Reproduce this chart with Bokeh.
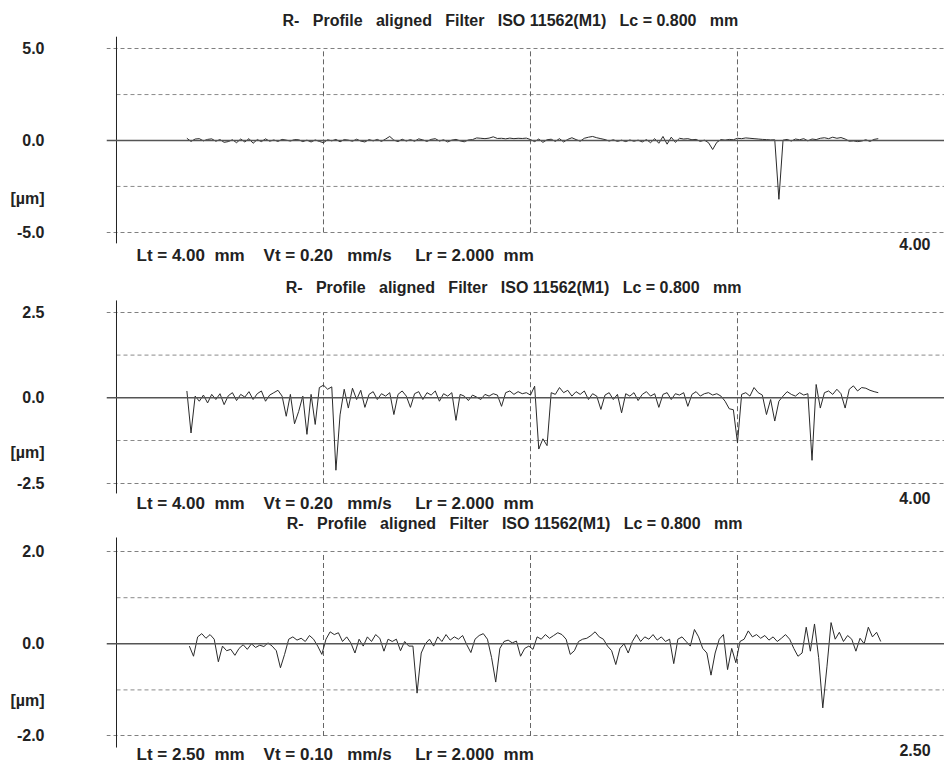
import numpy as np
from bokeh.plotting import figure
from bokeh.layouts import column
from bokeh.models import Span, Label, FixedTicker
from bokeh.embed import file_html
from bokeh.resources import INLINE

# ---------------- data ----------------
TITLE = "R-   Profile   aligned   Filter   ISO 11562(M1)   Lc = 0.800   mm"
INFO = ["Lt = 4.00  mm    Vt = 0.20   mm/s     Lr = 2.000  mm",
        "Lt = 4.00  mm    Vt = 0.20   mm/s     Lr = 2.000  mm",
        "Lt = 2.50  mm    Vt = 0.10   mm/s     Lr = 2.000  mm"]
LT_LABELS = ["4.00", "4.00", "2.50"]
UNIT = "[µm]"

Y_TICKS = [[5.0, 0.0, -5.0], [2.5, 0.0, -2.5], [2.0, 0.0, -2.0]]
Y_TICK_LABELS = [["5.0", "0.0", "-5.0"], ["2.5", "0.0", "-2.5"], ["2.0", "0.0", "-2.0"]]
UNIT_AT = [-3.16, -1.60, -1.23]          # where the unit label sits on the y scale
OUTER_GRID = [[5.0, -5.0], [2.5, -2.5], [2.0, -2.0]]
INNER_GRID = [[2.5, -2.5], [1.25, -1.25], [1.0, -1.0]]
V_GRID = [[1.0, 2.0, 3.0], [1.0, 2.0, 3.0], [0.625, 1.25, 1.875]]
LENGTH = [4.0, 4.0, 2.5]

# sampling grid of the profiles (mm)
X0 = [0.34, 0.34, 0.22]
DX = [0.02, 0.02, 0.0125]

PROFILE_1 = [
    0.12, -0.05, 0.08, 0.10, -0.02, 0.06, 0.09, -0.04, 0.05, -0.10,
    -0.06, 0.04, -0.12, 0.08, -0.08, 0.10, -0.15, 0.05, -0.06, 0.09,
    -0.04, 0.03, -0.05, 0.06, 0.02, -0.03, 0.05, 0.04, -0.06, 0.02,
    -0.08, 0.03, -0.05, -0.12, 0.04, -0.02, 0.06, -0.07, 0.05, 0.02,
    -0.04, 0.07, -0.03, -0.08, 0.05, -0.02, 0.06, -0.05, 0.08, 0.22,
    0.02, -0.06, 0.07, -0.03, 0.05, -0.04, 0.09, 0.03, -0.05, 0.06,
    0.10, -0.03, 0.04, -0.08, 0.02, 0.06, -0.02, -0.07, 0.03, 0.05,
    0.14, 0.12, 0.10, 0.13, 0.20, 0.11, 0.12, 0.09, 0.13, 0.10,
    0.12, 0.11, 0.13, 0.05, -0.06, 0.08, -0.10, 0.04, 0.07, -0.05,
    0.10, -0.08, 0.06, 0.15, 0.05, -0.04, 0.12, 0.18, 0.22, 0.15,
    0.10, 0.05, -0.03, 0.04, -0.05, 0.02, -0.06, 0.03, -0.04, 0.02,
    -0.08, 0.05, -0.12, 0.10, -0.15, 0.22, -0.20, 0.18, -0.10, 0.12,
    0.08, 0.10, 0.04, 0.06, -0.05, 0.02, -0.12, -0.49, -0.10, 0.05,
    0.02, 0.06, 0.04, 0.12, 0.10, 0.14, 0.12, 0.10, 0.08, 0.06,
    0.05, 0.03, 0.04, -3.20, 0.02, 0.06, -0.03, 0.08, 0.04, 0.10,
    -0.02, 0.08, 0.05, 0.12, 0.15, 0.10, 0.18, 0.12, 0.16, 0.08,
    -0.04, -0.02, -0.06, -0.03, 0.04, -0.05, 0.06, 0.10,
]

PROFILE_2 = [
    0.20, -1.03, 0.05, -0.10, 0.08, -0.15, 0.10, -0.05, 0.12, -0.20,
    0.06, 0.15, -0.08, 0.10, 0.02, 0.18, -0.05, 0.12, 0.20, -0.10,
    0.08, 0.15, 0.22, 0.05, -0.54, 0.10, -0.76, -0.40, 0.05, -1.07,
    0.10, -0.78, 0.30, 0.37, 0.25, 0.32, -2.12, -0.50, 0.25, -0.30,
    0.28, -0.05, 0.22, -0.28, 0.10, 0.18, -0.05, 0.12, 0.05, 0.15,
    -0.49, 0.10, 0.20, 0.05, -0.28, 0.12, 0.18, -0.05, 0.15, 0.08,
    0.20, -0.10, 0.12, 0.05, 0.15, -0.66, 0.10, 0.05, -0.08, 0.08,
    0.02, -0.05, 0.10, 0.05, 0.12, 0.08, -0.25, 0.15, 0.20, 0.10,
    0.18, 0.12, 0.15, 0.08, 0.34, -1.50, -1.20, -1.40, 0.15, 0.10,
    0.30, 0.15, 0.22, 0.05, 0.18, 0.10, 0.20, -0.05, 0.12, 0.05,
    -0.34, 0.08, 0.15, -0.05, 0.10, -0.44, 0.12, 0.05, 0.15, -0.08,
    0.10, 0.18, 0.05, 0.12, -0.28, 0.10, 0.15, -0.05, 0.12, 0.08,
    0.15, -0.25, 0.10, 0.18, 0.05, 0.12, 0.15, 0.08, 0.12, 0.05,
    -0.10, -0.32, -0.35, -1.32, 0.10, 0.15, 0.05, 0.30, 0.15, 0.08,
    -0.49, -0.05, -0.68, -0.10, 0.05, 0.18, 0.10, 0.05, 0.15, 0.08,
    0.12, -1.83, 0.39, -0.30, 0.15, 0.20, 0.10, 0.25, 0.12, -0.30,
    0.25, 0.35, 0.20, 0.30, 0.28, 0.22, 0.18, 0.15,
]

PROFILE_3 = [
    -0.05, -0.27, 0.15, 0.22, 0.12, 0.20, 0.10, -0.39, -0.05, -0.15,
    -0.12, -0.25, -0.10, -0.02, -0.12, 0.00, -0.08, -0.03, -0.06, 0.02,
    -0.05, -0.15, -0.52, -0.23, 0.10, 0.15, 0.08, 0.12, 0.05, 0.18,
    0.10, -0.05, -0.23, 0.10, 0.26, 0.20, 0.24, 0.05, 0.15, 0.02,
    -0.20, 0.10, -0.05, 0.15, 0.05, 0.20, 0.12, -0.16, 0.10, 0.05,
    0.10, -0.15, 0.05, -0.05, -0.05, -1.07, -0.20, 0.00, 0.10, -0.05,
    0.15, 0.05, 0.20, 0.08, 0.15, 0.10, 0.18, -0.02, -0.19, 0.10,
    0.18, 0.22, 0.10, -0.30, -0.83, -0.10, 0.05, 0.08, 0.02, 0.06,
    -0.27, -0.10, -0.05, -0.12, 0.15, 0.10, 0.20, 0.12, 0.18, 0.24,
    0.20, 0.10, -0.23, -0.15, 0.05, 0.10, 0.12, 0.18, 0.26, 0.15,
    0.10, -0.05, -0.15, -0.45, -0.10, 0.00, -0.20, 0.05, 0.20, 0.05,
    0.15, 0.10, 0.20, 0.08, 0.15, 0.05, 0.10, -0.43, 0.10, 0.15,
    0.05, -0.05, 0.31, 0.15, -0.10, -0.20, -0.68, -0.20, 0.10, 0.20,
    -0.56, -0.10, -0.41, 0.05, 0.10, 0.28, 0.15, 0.20, 0.12, 0.18,
    0.08, 0.15, 0.05, 0.12, 0.20, 0.10, -0.10, -0.27, -0.20, 0.36,
    -0.16, 0.43, -0.30, -1.39, -0.50, 0.46, 0.10, 0.25, 0.05, 0.18,
    0.10, -0.16, 0.12, 0.00, 0.36, 0.15, 0.25, 0.05,
]
PROFILES = [PROFILE_1, PROFILE_2, PROFILE_3]

# ---------------- layout (pixels / axis ranges) ----------------
FONT = "Liberation Sans"
X_RANGES = [(-0.0483, 4.0), (-0.0483, 4.0), (-0.0302, 2.5)]
Y_RANGES = [(-6.968, 7.621), (-3.416, 3.785), (-2.640, 2.805)]
HEIGHTS = [268, 246, 251]
AXIS_SPAN = [(-5.60, 5.65), (-2.80, 2.85), (-2.25, 2.306)]
# annotation anchors in data units
TITLE_POS = [(1.903, 6.53), (1.918, 3.23), (1.202, 2.61)]
INFO_POS = [(0.0966, -6.26), (0.0966, -3.09), (0.0604, -2.40)]
LT_POS = [(3.932, -5.66), (3.932, -2.92), (2.458, -2.31)]


def keep_spaces(s):
    # SVG text collapses runs of blanks; non-breaking spaces keep the gaps
    return s.replace(" ", "\u00a0")


figs = []
for k in range(3):
    p = figure(width=944, height=HEIGHTS[k], output_backend="svg",
               toolbar_location=None, title=None,
               x_range=X_RANGES[k], y_range=Y_RANGES[k],
               x_axis_location=None,
               min_border_left=106, min_border_right=0,
               min_border_top=0, min_border_bottom=0)
    p.outline_line_color = None
    p.background_fill_color = "white"
    p.border_fill_color = "white"

    ticks = Y_TICKS[k] + [UNIT_AT[k]]
    labels = Y_TICK_LABELS[k] + [UNIT]
    ax = p.yaxis[0]
    ax.ticker = FixedTicker(ticks=ticks)
    ax.major_label_overrides = {t: s for t, s in zip(ticks, labels)}
    ax.minor_tick_line_color = None
    ax.major_tick_line_color = None
    ax.major_tick_in = 0
    ax.major_tick_out = 0
    ax.axis_line_color = None
    ax.major_label_standoff = 62
    ax.major_label_text_font = FONT
    ax.major_label_text_font_style = "bold"
    ax.major_label_text_font_size = "16px"
    ax.major_label_text_color = "#222222"

    p.xgrid.visible = False
    # outer grid lines with their left tick stubs (from the frame's left edge)
    p.ygrid.ticker = FixedTicker(ticks=OUTER_GRID[k])
    p.ygrid.grid_line_color = "#808080"
    p.ygrid.grid_line_dash = "4 3"
    p.ygrid.grid_line_width = 1
    # inner grid lines start at the vertical axis
    ig = INNER_GRID[k]
    p.segment(x0=[0.0] * len(ig), y0=ig, x1=[LENGTH[k]] * len(ig), y1=ig,
              line_color="#8a8a8a", line_dash="4 3", line_width=1)

    # vertical dashed lines
    lim = OUTER_GRID[k][0]
    vg = V_GRID[k]
    p.segment(x0=vg, y0=[-lim] * len(vg), x1=vg, y1=[lim] * len(vg),
              line_color="#666666", line_dash="5 3", line_width=1)

    # vertical axis line
    a0, a1 = AXIS_SPAN[k]
    p.segment(x0=[0.0], y0=[a0], x1=[0.0], y1=[a1], line_color="#222222", line_width=1)

    # zero line
    p.add_layout(Span(location=0, dimension="width", line_color="#555555",
                      line_width=1.6))

    ys = PROFILES[k]
    xs = X0[k] + DX[k] * np.arange(len(ys))
    p.line(xs, ys, line_color="#2a2a2a", line_width=1)

    common = dict(text_font=FONT, text_font_style="bold", text_color="#222222",
                  text_baseline="middle")
    p.add_layout(Label(x=TITLE_POS[k][0], y=TITLE_POS[k][1], text=keep_spaces(TITLE),
                       text_align="center", text_font_size="16px", **common))
    p.add_layout(Label(x=INFO_POS[k][0], y=INFO_POS[k][1], text=keep_spaces(INFO[k]),
                       text_align="left", text_font_size="17px", **common))
    p.add_layout(Label(x=LT_POS[k][0], y=LT_POS[k][1], text=LT_LABELS[k],
                       text_align="right", text_font_size="16px", **common))
    figs.append(p)

layout = column(*figs, spacing=0)
open("out.html", "w").write(file_html(layout, INLINE))
